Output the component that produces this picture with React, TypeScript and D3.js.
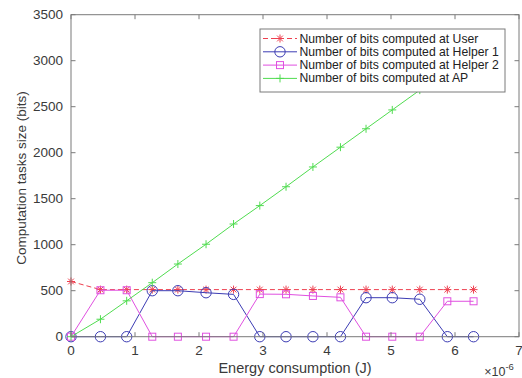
import React from "react";
import * as d3 from "d3";

const energy = [0, 0.46, 0.87, 1.27, 1.67, 2.11, 2.54, 2.95, 3.36, 3.78, 4.21, 4.61, 5.02, 5.45, 5.88, 6.29];
const userBits = [600, 512, 512, 512, 512, 512, 512, 512, 512, 512, 512, 512, 512, 512, 512, 512];
const helper1Bits = [0, 0, 0, 500, 500, 478, 460, 0, 0, 0, 0, 424, 424, 407, 0, 0];
const helper2Bits = [0, 505, 505, 0, 0, 0, 0, 463, 461, 443, 428, 0, 0, 0, 385, 385];
const apBits = [0, 190, 390, 587, 790, 1005, 1225, 1425, 1630, 1845, 2060, 2260, 2465, 2680, 2890, 3100];
const xTicks = [0, 1, 2, 3, 4, 5, 6, 7];
const yTicks = [0, 500, 1000, 1500, 2000, 2500, 3000, 3500];
const seriesNames = [
  "Number of bits computed at User",
  "Number of bits computed at Helper 1",
  "Number of bits computed at Helper 2",
  "Number of bits computed at AP",
];

const W = 522, H = 378;
const L = 71, R = 519, T = 14.7, B = 336.7;
const axisColor = "#7a7a7a";
const textColor = "#3a3a3a";
const font = "'Liberation Sans', Arial, sans-serif";

type Marker = "star" | "circle" | "square" | "plus";
const series = [
  { name: seriesNames[0], values: userBits, color: "#ee4050", dash: "5,3", marker: "star" as Marker },
  { name: seriesNames[1], values: helper1Bits, color: "#3c3cb4", dash: "", marker: "circle" as Marker },
  { name: seriesNames[2], values: helper2Bits, color: "#e050e0", dash: "", marker: "square" as Marker },
  { name: seriesNames[3], values: apBits, color: "#50dc50", dash: "", marker: "plus" as Marker },
];

function MarkerShape({ type, x, y, color }: { type: Marker; x: number; y: number; color: string }) {
  if (type === "circle") return <circle cx={x} cy={y} r={5.2} fill="none" stroke={color} strokeWidth={1} />;
  if (type === "square") return <rect x={x - 3.5} y={y - 3.5} width={7} height={7} fill="none" stroke={color} strokeWidth={1} />;
  if (type === "plus")
    return (
      <path d={`M${x - 4},${y}H${x + 4}M${x},${y - 4}V${y + 4}`} stroke={color} strokeWidth={1} fill="none" />
    );
  const s = 4, d = 2.9;
  return (
    <path
      d={`M${x - s},${y}H${x + s}M${x},${y - s}V${y + s}M${x - d},${y - d}L${x + d},${y + d}M${x - d},${y + d}L${x + d},${y - d}`}
      stroke={color}
      strokeWidth={1}
      fill="none"
    />
  );
}

export default function App() {
  const x = d3.scaleLinear().domain([0, 7]).range([L, R]);
  const y = d3.scaleLinear().domain([0, 3500]).range([B, T]);
  const line = d3
    .line<number>()
    .x((_, i) => x(energy[i]))
    .y((v) => y(v));

  const legX = 260, legY = 29, legW = 245, legH = 63;
  return (
    <svg width={W} height={H} style={{ position: "absolute", left: 0, top: 0, background: "#fff" }}>
      <rect x={0} y={0} width={W} height={H} fill="#fff" />
      {series.map((s) => (
        <g key={s.name}>
          <path d={line(s.values) || ""} fill="none" stroke={s.color} strokeWidth={1} strokeDasharray={s.dash || undefined} />
          {s.values.map((v, i) => (
            <MarkerShape key={i} type={s.marker} x={x(energy[i])} y={y(v)} color={s.color} />
          ))}
        </g>
      ))}
      <rect x={L} y={T} width={R - L} height={B - T} fill="none" stroke={axisColor} strokeWidth={1} />
      {xTicks.map((t) => (
        <g key={"x" + t}>
          <line x1={x(t)} x2={x(t)} y1={B} y2={B - 4.5} stroke={axisColor} />
          <line x1={x(t)} x2={x(t)} y1={T} y2={T + 4.5} stroke={axisColor} />
          <text x={x(t)} y={350.5} textAnchor="middle" dominantBaseline="central" fontSize={13.5} fontFamily={font} fill={textColor}>
            {t}
          </text>
        </g>
      ))}
      {yTicks.map((t) => (
        <g key={"y" + t}>
          <line x1={L} x2={L + 4.5} y1={y(t)} y2={y(t)} stroke={axisColor} />
          <line x1={R} x2={R - 4.5} y1={y(t)} y2={y(t)} stroke={axisColor} />
          <text x={63} y={y(t)} textAnchor="end" dominantBaseline="central" fontSize={13.5} fontFamily={font} fill={textColor}>
            {t}
          </text>
        </g>
      ))}
      <text x={295} y={368} textAnchor="middle" dominantBaseline="central" fontSize={14.5} fontFamily={font} fill={textColor}>
        Energy consumption (J)
      </text>
      <text x={499} y={372} textAnchor="middle" dominantBaseline="central" fontSize={12.5} fontFamily={font} fill={textColor}>
        {"\u00d710"}
        <tspan dy={-6} fontSize={9.5}>-6</tspan>
      </text>
      <text
        transform={`translate(21.5,178) rotate(-90)`}
        textAnchor="middle"
        dominantBaseline="central"
        fontSize={13.5}
        fontFamily={font}
        fill={textColor}
      >
        Computation tasks size (bits)
      </text>
      <rect x={legX} y={legY} width={legW} height={legH} fill="#fff" stroke={axisColor} strokeWidth={1} />
      {series.map((s, i) => {
        const ly = 38.5 + i * 13.3;
        return (
          <g key={"leg" + i}>
            <line x1={263} x2={297} y1={ly} y2={ly} stroke={s.color} strokeDasharray={s.dash || undefined} />
            <MarkerShape type={s.marker} x={280} y={ly} color={s.color} />
            <text x={299.5} y={ly} dominantBaseline="central" fontSize={12.2} fontFamily={font} fill="#222">
              {s.name}
            </text>
          </g>
        );
      })}
    </svg>
  );
}
